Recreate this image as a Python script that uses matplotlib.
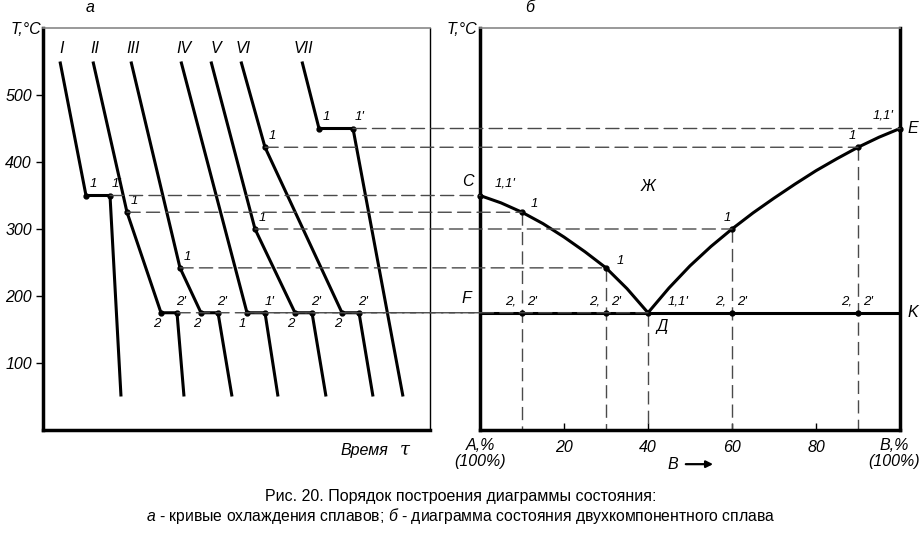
import matplotlib
matplotlib.use('Agg')
import matplotlib.pyplot as plt
from matplotlib.patches import ConnectionPatch

plt.rcParams['font.family'] = ['Liberation Sans', 'DejaVu Sans']
plt.rcParams['mathtext.fontset'] = 'custom'
plt.rcParams['mathtext.rm'] = 'Liberation Sans'
plt.rcParams['mathtext.it'] = 'Liberation Sans:italic'
plt.rcParams['lines.scale_dashes'] = False

# cooling curves (time, T) - time in arbitrary units
curve_names = ['I', 'II', 'III', 'IV', 'V', 'VI', 'VII']
curve_t = [
    [17, 43, 67, 78],
    [50, 84, 118, 134, 141],
    [88, 137, 158, 175, 189],
    [138, 204, 222, 235],
    [168, 212, 252, 269, 283],
    [198, 222, 299, 316, 330],
    [259, 276, 310, 360],
]
curve_T = [
    [550, 350, 350, 50],
    [550, 325, 175, 175, 50],
    [550, 242, 175, 175, 50],
    [550, 175, 175, 50],
    [550, 300, 175, 175, 50],
    [550, 422, 175, 175, 50],
    [550, 450, 450, 50],
]
# labels of the inner points of each curve
curve_marks = [
    ['1', "1'"],
    ['1', '2', "2'"],
    ['1', '2', "2'"],
    ['1', "1'"],
    ['1', '2', "2'"],
    ['1', '2', "2'"],
    ['1', "1'"],
]
name_t = [19, 52, 90, 141, 173, 200, 260]

# phase diagram
liq_left_c = [0, 5, 10, 15, 20, 25, 30, 35, 40]
liq_left_T = [350, 339, 325, 308, 288, 266, 242, 211, 175]
liq_right_c = [40, 45, 50, 55, 60, 65, 70, 75, 80, 85, 90, 95, 100]
liq_right_T = [175, 212, 245, 274, 300, 324, 346, 367, 387, 405, 422, 437, 450]
alloy_c = [0, 10, 30, 40, 60, 90, 100]
alloy_T1 = [350, 325, 242, 175, 300, 422, 450]
T_eut = 175
comp_ticks = [0, 20, 40, 60, 80, 100]
comp_labels = ['', '20', '40', '60', '80', '']
# which cooling-curve point projects onto which alloy (curve index, point index)
proj = [(0, 2), (1, 1), (2, 1), (3, 1), (4, 1), (5, 1), (6, 2)]

fig = plt.figure(figsize=(9.22, 5.35), dpi=100)
ax1 = fig.add_axes([43/922, 1-430/535, 387/922, 402/535])
ax2 = fig.add_axes([480/922, 1-430/535, 420/922, 402/535])
ax1.patch.set_alpha(0)
ax2.patch.set_alpha(0)

it = dict(style='italic', fontsize=11.5)
sm = dict(style='italic', fontsize=9.5)
dash = (0, (9.5, 4.5))
dcol = '#4a4a4a'

# ---- left panel: cooling curves
ax1.set_xlim(0, 387)
ax1.set_ylim(0, 600)
for i in range(len(curve_t)):
    ax1.plot(curve_t[i], curve_T[i], color='black', lw=2.2, solid_capstyle='butt', zorder=3)
    ax1.plot(curve_t[i][1:-1], curve_T[i][1:-1], 'o', color='black', ms=3.5, zorder=4)
    ax1.text(name_t[i], 570, curve_names[i], ha='center', va='center', **it)
    for j, lab in enumerate(curve_marks[i]):
        t, T = curve_t[i][j+1], curve_T[i][j+1]
        nxt = curve_T[i][j+2]
        if T == T_eut and nxt == T_eut:
            off = (-3, -8)
        elif T == T_eut:
            off = (3, 8)
        else:
            off = (5, 8)
        ax1.annotate(lab, (t, T), xytext=off, textcoords='offset points',
                     ha='center', va='center', **sm)

ax1.set_yticks([100, 200, 300, 400, 500])
ax1.set_yticklabels(['100', '200', '300', '400', '500'], style='italic')
ax1.set_xticks([])
ax1.tick_params(axis='y', direction='out', length=5, width=1, pad=3, labelsize=11.5)
ax1.spines['left'].set_linewidth(2.5)
ax1.spines['bottom'].set_linewidth(2.5)
ax1.spines['top'].set_linewidth(1.2)
ax1.spines['top'].set_color('#888888')
ax1.spines['right'].set_linewidth(1)
ax1.text(345, -0.05, 'Время', transform=ax1.get_xaxis_transform(),
         ha='right', va='center', **it)
ax1.text(362, -0.05, 'τ', transform=ax1.get_xaxis_transform(),
         ha='center', va='center', family='DejaVu Serif', style='italic', fontsize=13)

# ---- right panel: phase diagram
ax2.set_xlim(0, 100)
ax2.set_ylim(0, 600)
ax2.plot(liq_left_c, liq_left_T, color='black', lw=2.2, zorder=3)
ax2.plot(liq_right_c, liq_right_T, color='black', lw=2.2, zorder=3)
ax2.plot([0, 100], [T_eut, T_eut], color='black', lw=2.2, zorder=3)
ax2.plot(alloy_c, alloy_T1, 'o', color='black', ms=3.5, clip_on=False, zorder=4)
for c in [10, 30, 60, 90]:
    ax2.plot(c, T_eut, 'o', color='black', ms=3.5, zorder=4)
for c, T in zip(alloy_c[1:-1], alloy_T1[1:-1]):
    ax2.plot([c, c], [T, 0], color=dcol, lw=1, ls=dash, zorder=2)

ax2.set_xticks(comp_ticks)
ax2.set_xticklabels(comp_labels, style='italic')
ax2.set_yticks([])
ax2.tick_params(axis='x', direction='in', length=5, width=1, pad=7, labelsize=11.5)
for s in ['left', 'right', 'bottom']:
    ax2.spines[s].set_linewidth(2.5)
ax2.spines['top'].set_linewidth(1.2)
ax2.spines['top'].set_color('#888888')
xt = ax2.get_xaxis_transform()
ax2.text(0, -0.02, 'A,%\n(100%)', transform=xt, ha='center', va='top',
         linespacing=1.1, **it)
ax2.text(98.6, -0.02, 'B,%\n(100%)', transform=xt, ha='center', va='top',
         linespacing=1.1, **it)


def lab2(txt, xy, off, style=sm):
    ax2.annotate(txt, xy, xytext=off, textcoords='offset points',
                 ha='center', va='center', annotation_clip=False, **style)


lab2('C', (0, 350), (-9, 10), it)
lab2("1,1'", (0, 350), (18, 9))
lab2('1', (10, 325), (9, 6))
lab2('1', (30, 242), (10, 5))
lab2('1', (60, 300), (-3, 8))
lab2('1', (90, 422), (-4, 8))
lab2("1,1'", (100, 450), (-12, 9))
lab2("1,1'", (40, 175), (22, 8))
for c in [10, 30, 60, 90]:
    lab2('2,', (c, T_eut), (-8, 8))
    lab2("2'", (c, T_eut), (7, 8))
lab2('E', (100, 450), (9, 0), it)
lab2('K', (100, T_eut), (9, 0), it)
lab2('F', (0, T_eut), (-10, 10), it)
lab2('Д', (40, T_eut), (10, -10), it)
ax2.text(40, 363, 'Ж', ha='center', va='center', **it)
ax2.text(46, -0.085, 'B', transform=xt, ha='center', va='center', **it)
ax2.annotate('', xy=(55.5, -0.085), xytext=(49, -0.085), xycoords=xt,
             arrowprops=dict(arrowstyle='-|>', color='black', lw=1.6,
                             mutation_scale=10, shrinkA=0, shrinkB=0))

# horizontal projections from cooling curves to the diagram
for k, (ci, pj) in enumerate(proj):
    xyA = (curve_t[ci][pj], curve_T[ci][pj])
    xyB = (alloy_c[k], alloy_T1[k])
    con = ConnectionPatch(xyA=xyA, coordsA=ax1.transData, xyB=xyB, coordsB=ax2.transData,
                          color=dcol, lw=1, ls=dash, zorder=2)
    fig.add_artist(con)
con = ConnectionPatch(xyA=(curve_t[1][3], T_eut), coordsA=ax1.transData,
                      xyB=(0, T_eut), coordsB=ax2.transData,
                      color=dcol, lw=1, ls=dash, zorder=2)
fig.add_artist(con)

# titles and axis names
fig.text(90/922, 1-7/535, 'а', ha='center', va='center', **it)
fig.text(530/922, 1-7/535, 'б', ha='center', va='center', **it)
fig.text(41/922, 1-29/535, 'T,°C', ha='right', va='center', **it)
fig.text(477/922, 1-29/535, 'T,°C', ha='right', va='center', **it)

fig.text(0.5, 1-497/535, 'Рис. 20. Порядок построения диаграммы состояния:',
         ha='center', va='center', fontsize=11.5)
fig.text(0.5, 1-516/535,
         r'$\mathit{а}$ - кривые охлаждения сплавов; $\mathit{б}$ - диаграмма состояния двухкомпонентного сплава',
         ha='center', va='center', fontsize=11.3)

fig.savefig('out.png', dpi=100)
